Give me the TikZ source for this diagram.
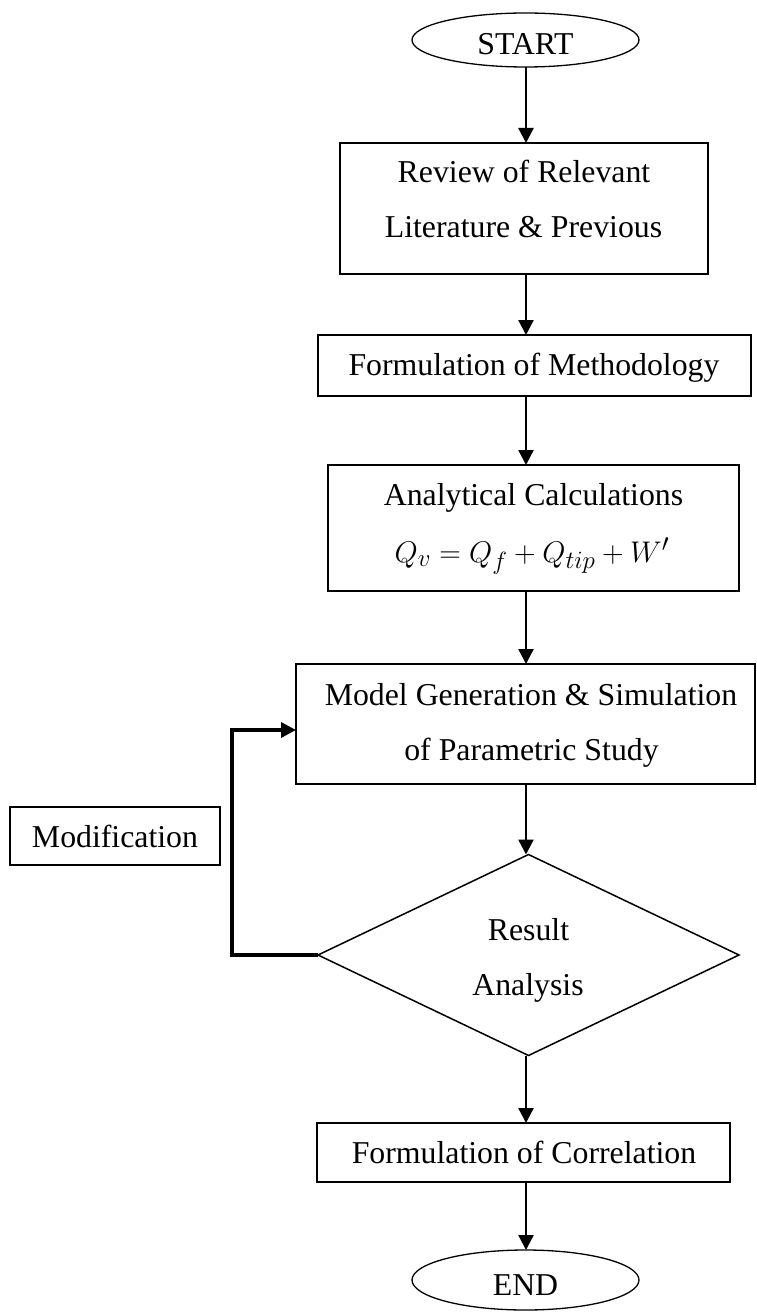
\documentclass[tikz,border=0pt]{standalone}
\usepackage{fontspec}
\setmainfont{Liberation Serif}
\usetikzlibrary{arrows.meta,shapes.geometric}
\begin{document}
\begin{tikzpicture}[x=1pt,y=-1pt,
  every node/.style={inner sep=0pt, outer sep=0pt},
  lbl/.style={font=\fontsize{31.8}{38}\selectfont, anchor=base},
  box/.style={draw, line width=1.8pt, rectangle},
  oval/.style={draw, line width=1.3pt, ellipse},
  dec/.style={draw, line width=1.5pt, diamond},
  arr/.style={line width=2.4pt, -{Triangle[length=15pt,width=15pt]}},
  looparr/.style={line width=3.4pt, -{Triangle[length=15pt,width=15pt]}}]
\useasboundingbox (0,0) rectangle (756,1313);

% shapes
\node[oval, minimum width=227pt, minimum height=54pt] (start) at (525.5,40) {};
\node[box, minimum width=368pt, minimum height=131pt] (rev) at (524,208.5) {};
\node[box, minimum width=433pt, minimum height=61pt] (meth) at (534.5,365.5) {};
\node[box, minimum width=411pt, minimum height=126pt] (ana) at (533.5,528) {};
\node[box, minimum width=459pt, minimum height=120pt] (model) at (525.5,724) {};
\node[dec, minimum width=421pt, minimum height=201pt] (dia) at (528.5,955) {};
\node[box, minimum width=413pt, minimum height=59pt] (corr) at (523.5,1152.5) {};
\node[oval, minimum width=227pt, minimum height=60pt] (end) at (525.5,1280) {};
\node[box, minimum width=210pt, minimum height=58pt] (mod) at (115,836) {};

% texts
\node[lbl] (tstart) at (525.5,55) {START};
\node[lbl] (trev1) at (524,183) {Review of Relevant};
\node[lbl] (trev2) at (523.5,238) {Literature \& Previous};
\node[lbl] (tmeth) at (534,375) {Formulation of Methodology};
\node[lbl] (tana1) at (533.5,505) {Analytical Calculations};
\node[lbl] (tana2) at (532,562) {\scalebox{1.2}{$Q_v = Q_f + Q_{tip} + W'$}};
\node[lbl] (tmod1) at (531,705) {Model Generation \& Simulation};
\node[lbl] (tmod2) at (531.5,760) {of Parametric Study};
\node[lbl] (tdia1) at (528.5,940) {Result};
\node[lbl] (tdia2) at (528,995) {Analysis};
\node[lbl] (tcorr) at (524,1163) {Formulation of Correlation};
\node[lbl] (tend) at (525.5,1295) {END};
\node[lbl] (tmodif) at (115,847) {Modification};

% connectors
\coordinate (c1) at (526,67);
\draw[arr] (c1) -- (c1 |- rev.north);
\draw[arr] (rev.south -| c1) -- (c1 |- meth.north);
\draw[arr] (meth.south -| c1) -- (c1 |- ana.north);
\draw[arr] (ana.south -| c1) -- (c1 |- model.north);
\draw[arr] (model.south -| c1) -- (c1 |- dia.north);
\draw[arr] (dia.south -| c1) -- (c1 |- corr.north);
\draw[arr] (corr.south -| c1) -- (c1 |- end.north);

\coordinate (lp1) at (232,955);
\coordinate (lp2) at (232,730);
\draw[looparr] (dia.west) -- (lp1) -- (lp2) -- (lp2 -| model.west);
\end{tikzpicture}
\end{document}
